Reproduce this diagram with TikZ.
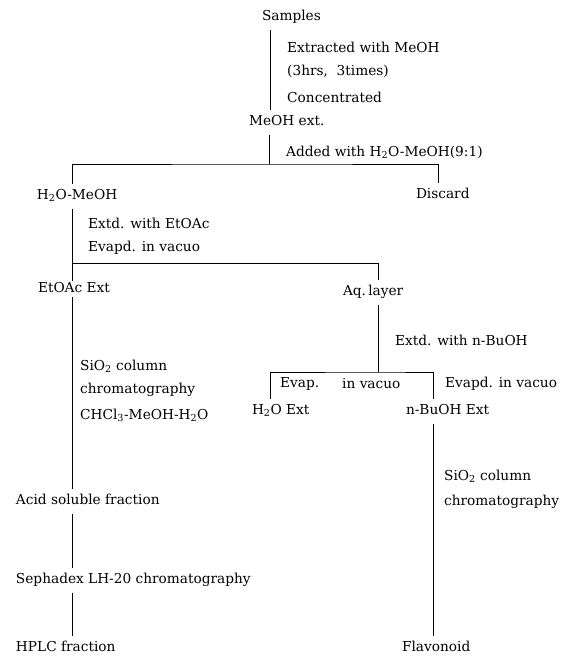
\documentclass[tikz,border=0pt]{standalone}
\usepackage{fontspec}
\setmainfont{DejaVu Serif}
\usetikzlibrary{calc}
\begin{document}
\begin{tikzpicture}[x=1pt,y=-1pt,
  every node/.style={font=\fontsize{13.7}{16}\selectfont},
  item/.style={anchor=west,inner xsep=0pt,inner ysep=6pt,outer sep=0pt,text height=10pt,text depth=3pt},
  note/.style={anchor=west,inner sep=0pt},
  conn/.style={line width=1pt}]
\useasboundingbox (0,0) rectangle (564,657);
% column coordinates
\coordinate (c1) at (72,0);
\coordinate (c2) at (270,0);
\coordinate (c3) at (378,0);
\coordinate (c4) at (270,0);
\coordinate (c5) at (433,0);
\coordinate (cD) at (438,0);
\coordinate (j1) at (269,164);
\coordinate (j2) at (72,263);
\coordinate (j3) at (378,372);
% main nodes
\node[item] (samples) at (262,17) {Samples};
\node[item] (meohext) at (249,122) {MeOH ext.};
\node[item] (h2omeoh) at (37,196) {H\textsubscript{2}O-MeOH};
\node[item] (discard) at (416,195) {Discard};
\node[item,inner ysep=1.5pt] (etoac) at (38,289) {EtOAc Ext};
\node[item] (aq) at (343,292) {Aq.\,layer};
\node[item] (h2oext) at (252,411) {H\textsubscript{2}O Ext};
\node[item] (buoh) at (406,411) {n-BuOH Ext};
\node[item] (acid) at (16,501) {Acid soluble fraction};
\node[item] (sepha) at (16,580) {Sephadex LH-20 chromatography};
\node[item] (hplc) at (16,648) {HPLC fraction};
\node[item] (flav) at (402,648) {Flavonoid};
% notes
\node[note] (n1) at (287,47) {Extracted with MeOH};
\node[note] (n2) at (287,71) {(3hrs,\ \ 3times)};
\node[note] (n3) at (287,97) {Concentrated};
\node[note] (n4) at (286,152) {Added with H\textsubscript{2}O-MeOH(9:1)};
\node[note] (n5) at (88,223) {Extd. with EtOAc};
\node[note] (n6) at (88,248) {Evapd. in vacuo};
\node[note] (n7) at (395,340) {Extd. with n-BuOH};
\node[note] (n8) at (280,384) {Evap.};
\node[note] (n9) at (342,384) {in vacuo};
\node[note] (n10) at (445,384) {Evapd. in vacuo};
\node[note] (n11) at (80,366) {SiO\textsubscript{2} column};
\node[note] (n12) at (80,390) {chromatography};
\node[note] (n13) at (80,415) {CHCl\textsubscript{3}-MeOH-H\textsubscript{2}O};
\node[note] (n14) at (444,476) {SiO\textsubscript{2} column};
\node[note] (n15) at (444,502) {chromatography};
% connectors
\draw[conn] (samples.south -| c2) -- (meohext.north -| c2);
\draw[conn] (meohext.south -| j1) -- (j1);
\draw[conn] (h2omeoh.north -| c1) |- (j1) -| (discard.north -| cD);
\draw[conn] (h2omeoh.south -| c1) -- (etoac.north -| c1);
\draw[conn] (j2) -| (aq.north -| c3);
\draw[conn] (etoac.south -| c1) -- (acid.north -| c1);
\draw[conn] (aq.south -| c3) -- (j3);
\draw[conn] (h2oext.north -| c4) |- (j3) -| (buoh.north -| c5);
\draw[conn] (buoh.south -| c5) -- (flav.north -| c5);
\draw[conn] (acid.south -| c1) -- (sepha.north -| c1);
\draw[conn] (sepha.south -| c1) -- (hplc.north -| c1);
\end{tikzpicture}
\end{document}
